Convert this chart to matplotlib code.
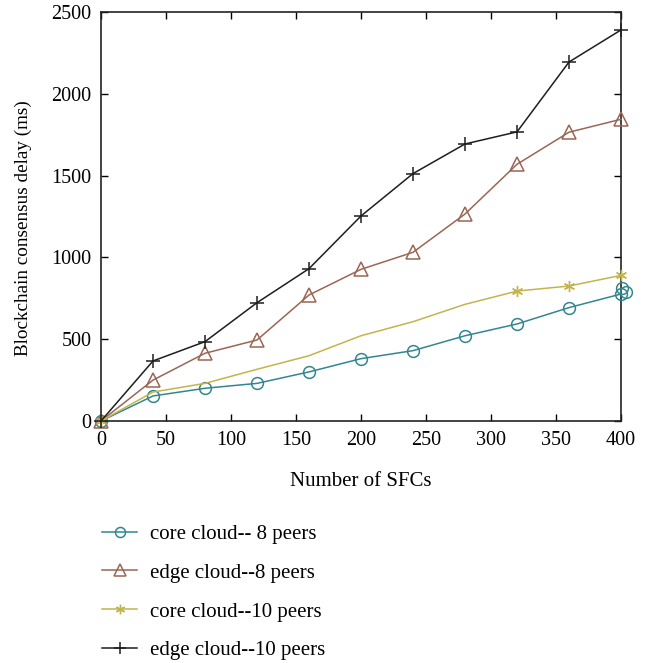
import matplotlib
matplotlib.use("Agg")
import matplotlib.pyplot as plt

plt.rcParams['font.family'] = ['Liberation Serif', 'DejaVu Serif']

x_sfc = [0, 40, 80, 120, 160, 200, 240, 280, 320, 360, 400]
core8 = [0, 153, 200, 230, 300, 381, 430, 521, 593, 693, 776]
core8_extra_x = [401, 404]
core8_extra_y = [811, 790]
edge8 = [0, 250, 414, 495, 770, 927, 1031, 1265, 1569, 1765, 1844]
core10 = [0, 177, 230, 316, 399, 521, 607, 713, 794, 825, 890]
core10_marker_idx = [0, 8, 9, 10]
edge10 = [0, 367, 485, 723, 931, 1253, 1512, 1693, 1767, 2194, 2390]

labels = ["core cloud-- 8 peers", "edge cloud--8 peers",
          "core cloud--10 peers", "edge cloud--10 peers"]
xticks = [0, 50, 100, 150, 200, 250, 300, 350, 400]
yticks = [0, 500, 1000, 1500, 2000, 2500]

c_teal = '#33868f'
c_brown = '#9a6655'
c_yellow = '#c4b44c'
c_black = '#1e1e1e'

fig = plt.figure(figsize=(6.61, 6.63), dpi=100)
ax = fig.add_axes([0.1528, 0.365, 0.7867, 0.617])

lw = 1.1
h1, = ax.plot(x_sfc, core8, color=c_teal, lw=lw, marker='o', ms=8.5,
              mfc='none', mew=1.1, label=labels[0], clip_on=False, zorder=3)
ax.plot(core8_extra_x, core8_extra_y, ls='none', color=c_teal, marker='o', ms=8.5,
        mfc='none', mew=1.1, clip_on=False, zorder=3)
h2, = ax.plot(x_sfc, edge8, color=c_brown, lw=lw, marker='^', ms=10,
              mfc='none', mew=1.1, label=labels[1], clip_on=False, zorder=3)
h3, = ax.plot(x_sfc, core10, color=c_yellow, lw=lw, marker=(6, 2, 0), ms=8,
              markevery=core10_marker_idx, mew=1.0, label=labels[2],
              clip_on=False, zorder=3)
h4, = ax.plot(x_sfc, edge10, color=c_black, lw=lw, marker='+', ms=10,
              mew=1.1, label=labels[3], clip_on=False, zorder=3)

ax.set_xlim(0, 400)
ax.set_ylim(0, 2500)
ax.set_xticks(xticks)
ax.set_yticks(yticks)
ax.tick_params(direction='in', length=5, width=1.0, top=True, right=True,
               labelsize=14.5, pad=7)
for s in ax.spines.values():
    s.set_linewidth(1.2)
    s.set_color('#222222')

ax.set_xlabel("Number of SFCs", fontsize=15, labelpad=16)
ax.set_ylabel("Blockchain consensus delay (ms)", fontsize=13.8)
ax.yaxis.set_label_coords(-0.133, 0.472)

fig.legend(handles=[h1, h2, h3, h4], loc='upper left',
           bbox_to_anchor=(0.155, 0.209), frameon=False, fontsize=15,
           handlelength=1.65, handletextpad=0.65, labelspacing=0.92,
           borderaxespad=0, borderpad=0, numpoints=1, markerscale=0.85)

fig.savefig("out.png", dpi=100)
